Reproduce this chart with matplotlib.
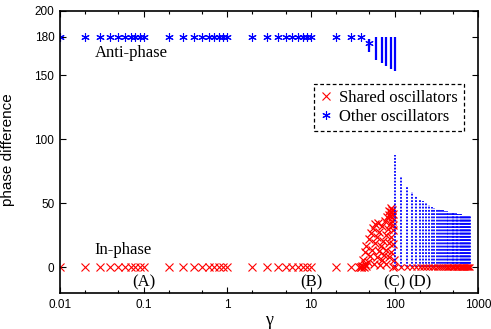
"""
Phase difference vs coupling strength gamma (shared vs other oscillators).
"""

import matplotlib
matplotlib.use("Agg")
import matplotlib.pyplot as plt
from matplotlib.lines import Line2D
from matplotlib.ticker import LogLocator, NullFormatter, FixedLocator

# --- data ------------------------------------------------------------------

# steady region: shared oscillators in phase (0), others anti-phase (180)
GAMMA_LOW = [0.01, 0.02, 0.03, 0.04, 0.05, 0.06, 0.07, 0.08, 0.09, 0.1,
             0.2, 0.3, 0.4, 0.5, 0.6, 0.7, 0.8, 0.9, 1.0,
             2, 3, 4, 5, 6, 7, 8, 9, 10,
             20, 30, 40]
SHARED_LOW = [0] * len(GAMMA_LOW)
OTHER_LOW = [180] * len(GAMMA_LOW)

# transition region 40 < gamma < 100, shared oscillators scatter
GAMMA_SCATTER = [38, 40, 41, 43, 44, 46,
                 42, 44, 46, 49, 52, 55, 58,
                 48, 51, 54, 58, 62, 66, 71, 76, 81, 86, 90, 94,
                 57, 61, 65, 69, 73, 78, 83, 88, 93,
                 67, 71, 75, 80, 85, 90, 95,
                 80, 85, 90, 96,
                 86, 91, 95, 89, 93, 97, 98, 97, 64]
PHASE_SCATTER = [0, 0, 1, 0, 3, 1,
                 6, 12, 17, 22, 27, 31, 34,
                 4, 9, 14, 19, 24, 28, 32, 36, 39, 41, 43, 45,
                 3, 8, 13, 17, 21, 25, 30, 34, 39,
                 2, 6, 10, 14, 19, 24, 29,
                 3, 8, 12, 18,
                 44, 46, 42, 40, 36, 33, 6, 0, 35]

# other oscillators leaving anti-phase: one marker plus spread ranges
GAMMA_DROP_MARK = [50]
OTHER_DROP_MARK = [175]
GAMMA_DROP = [50, 60, 70, 80, 90, 100]
OTHER_DROP_MIN = [168, 162, 159, 157, 155, 153]
OTHER_DROP_MAX = [178, 180, 180, 180, 180, 180]

# strong coupling: others spread from 0 up to a maximum, shared stay at 0
GAMMA_HIGH = [100, 120, 140, 160, 180, 200, 220, 240, 260, 280,
              300, 320, 340, 360, 380, 400, 420, 440, 460, 480,
              500, 520, 540, 560, 580, 600, 620, 640, 660, 680,
              700, 720, 740, 760, 780, 800]
OTHER_HIGH_MAX = [88, 71, 63, 59, 56, 53.5, 51.5, 50, 48.7, 47.4,
                  46.3, 45.8, 45.3, 44.9, 44.5, 44.1, 43.8, 43.5, 43.2, 42.9,
                  42.6, 42.3, 42.1, 41.9, 41.7, 41.5, 41.3, 41.1, 41.0, 40.8,
                  40.7, 40.5, 40.4, 40.3, 40.1, 40.0]
SHARED_HIGH = [0] * len(GAMMA_HIGH)

Y_TICKS = [0, 50, 100, 150, 180, 200]
X_TICKS = [0.01, 0.1, 1, 10, 100, 1000]
X_TICK_LABELS = ["0.01", "0.1", "1", "10", "100", "1000"]

LABELS = [("Anti-phase", 0.026, 167), ("In-phase", 0.026, 14),
          ("(A)", 0.1, -11.5), ("(B)", 10, -11.5),
          ("(C)", 100, -11.5), ("(D)", 200, -11.5)]

RED = "#ff0000"
BLUE = "#0000ff"
ASTERISK = (6, 2, 0)
SERIF = ["Liberation Serif", "DejaVu Serif"]
SANS = ["Liberation Sans", "DejaVu Sans"]


def main():
    plt.rcParams["font.family"] = SANS
    fig = plt.figure(figsize=(4.91, 3.29), dpi=100)
    ax = fig.add_axes([0.122, 0.109, 0.852, 0.858])

    # low / steady region
    ax.plot(GAMMA_LOW, SHARED_LOW, ls="none", marker="x", color=RED,
            ms=5.5, mew=0.8)
    ax.plot(GAMMA_LOW, OTHER_LOW, ls="none", marker=ASTERISK, color=BLUE,
            ms=6, mew=0.8)

    # transition
    ax.vlines(GAMMA_DROP, OTHER_DROP_MIN, OTHER_DROP_MAX, color=BLUE, lw=1.6)
    ax.plot(GAMMA_DROP_MARK, OTHER_DROP_MARK, ls="none", marker=ASTERISK,
            color=BLUE, ms=6, mew=0.8)
    ax.plot(GAMMA_SCATTER, PHASE_SCATTER, ls="none", marker="x", color=RED,
            ms=6, mew=0.9)

    # strong coupling
    ax.vlines(GAMMA_HIGH, [0] * len(GAMMA_HIGH), OTHER_HIGH_MAX, color=BLUE,
              lw=1.3, linestyles=(0, (1, 0.8)))
    ax.plot(GAMMA_HIGH, SHARED_HIGH, ls="none", marker="x", color=RED,
            ms=4.5, mew=0.8)

    for txt, x, y in LABELS:
        ha = "left" if txt.endswith("phase") else "center"
        ax.text(x, y, txt, ha=ha, va="center", fontsize=12, family=SERIF)

    ax.set_xscale("log")
    ax.set_xlim(0.01, 1000)
    ax.set_ylim(-20, 200)
    ax.xaxis.set_major_locator(FixedLocator(X_TICKS))
    ax.set_xticklabels(X_TICK_LABELS)
    ax.xaxis.set_minor_locator(LogLocator(base=10, subs=(2, 5)))
    ax.xaxis.set_minor_formatter(NullFormatter())
    ax.set_yticks(Y_TICKS)

    ax.tick_params(which="both", direction="in", top=True, right=True,
                   labelsize=8.5, width=0.8)
    ax.tick_params(which="major", length=4, pad=4)
    ax.tick_params(which="minor", length=2)
    for s in ax.spines.values():
        s.set_linewidth(1.2)

    ax.set_xlabel("γ", fontsize=13, family=SERIF, labelpad=1)
    ax.set_ylabel("phase difference", fontsize=11)
    ax.yaxis.set_label_coords(-0.108, 0.51)

    handles = [
        Line2D([], [], ls="none", marker="x", color=RED, ms=6, mew=0.8),
        Line2D([], [], ls="none", marker=ASTERISK, color=BLUE, ms=6, mew=0.8),
    ]
    leg = ax.legend(handles, ["Shared oscillators", "Other oscillators"],
                    loc="upper right", bbox_to_anchor=(0.966, 0.742),
                    prop={"family": SERIF, "size": 12}, fancybox=False,
                    framealpha=1, edgecolor="black", handlelength=0.8,
                    handletextpad=0.4, borderpad=0.35, labelspacing=0.2,
                    borderaxespad=0)
    leg.get_frame().set_linestyle((0, (3, 2)))
    leg.get_frame().set_linewidth(0.9)

    fig.savefig("out.png", dpi=100)
    plt.close(fig)


if __name__ == "__main__":
    main()
